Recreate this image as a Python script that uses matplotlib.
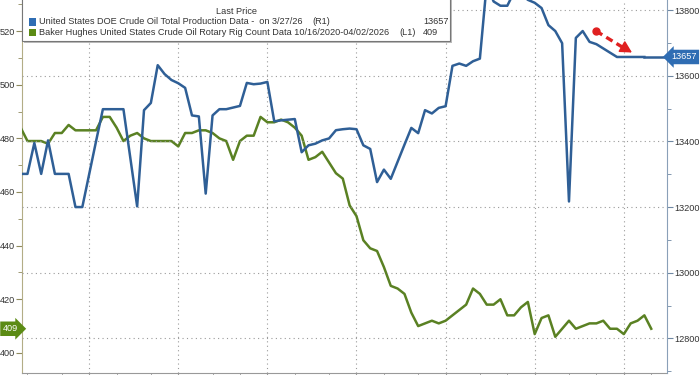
import matplotlib.pyplot as plt
from matplotlib.patches import Rectangle
from matplotlib.lines import Line2D
from matplotlib.ticker import MultipleLocator, FixedLocator
import matplotlib.transforms as mtrans

plt.rcParams['font.family'] = ['Liberation Sans', 'DejaVu Sans']

# weekly Baker Hughes oil rig count (left axis)
rig_count = [484, 479, 479, 479, 478, 482, 482, 485, 483, 483,
             483, 483, 488, 488, 484, 479, 481, 482, 480, 479,
             479, 479, 479, 477, 482, 482, 483, 483, 482, 480,
             479, 472, 479, 481, 481, 488, 486, 486, 487, 486,
             484, 481, 472, 473, 475, 471, 467, 465, 455, 451,
             442, 439, 438, 432, 425, 424, 422, 415, 410, 411,
             412, 411, 412, 414, 416, 418, 424, 422, 418, 418,
             420, 414, 414, 417, 419, 407, 413, 414, 406, 409,
             412, 409, 410, 411, 411, 412, 409, 409, 407, 411,
             412, 414, 409]

# weekly DOE crude oil production, kb/d (right axis)
production = [13301, 13301, 13395, 13301, 13403, 13301, 13301, 13301, 13200, 13200,
              13300, 13400, 13498, 13498, 13498, 13498, 13350, 13202, 13495, 13517,
              13632, 13605, 13587, 13577, 13563, 13479, 13476, 13241, 13479, 13498,
              13498, 13503, 13508, 13578, 13574, 13576, 13581, 13461, 13464, 13466,
              13468, 13367, 13388, 13393, 13403, 13409, 13434, 13437, 13439, 13437,
              13388, 13377, 13276, 13314, 13286, 13338, 13390, 13441, 13425, 13495,
              13485, 13502, 13507, 13630, 13637, 13630, 13644, 13652, 13880, 13826,
              13813, 13813, 13855, 13850, 13831, 13822, 13806, 13754, 13736, 13699,
              13217, 13715, 13736, 13703, 13696, 13683, 13670, 13657, 13657, 13657,
              13657, 13657]

grid_weeks = [10, 23, 36, 49, 62, 75, 88]
month_weeks = [1, 6, 14, 19, 28, 32, 40, 45, 53, 58, 67, 71, 80, 84, 92]

legend_header = "Last Price"
legend_rows = [
    ("United States DOE Crude Oil Total Production Data -  on 3/27/26", "(R1)", "13657"),
    ("Baker Hughes United States Crude Oil Rotary Rig Count Data 10/16/2020-04/02/2026", "(L1)", "409"),
]

blue = "#2f5f96"
green = "#5a8123"
tag_blue = "#2f6db3"
tag_green = "#5b8b14"
txt = "#333333"
red = "#e02020"

W, H = 700, 375


def fx(x):
    return x / W


def fy(y):
    return 1 - y / H


fig = plt.figure(figsize=(7, 3.75), dpi=100)
ax = fig.add_axes([fx(22), 2 / H, (667 - 22) / W, 373 / H])
ax2 = ax.twinx()

xmax = 94.3
ax.set_xlim(0.2, xmax)
ax.set_ylim(392.5, 531.6)
ax2.set_ylim(12694.7, 13830.5)

# lines
ax.plot(range(len(rig_count)), rig_count, color=green, lw=1.8, zorder=3)
ax2.plot(range(len(production)), production, color=blue, lw=1.8, zorder=3)
ax2.plot([len(production) - 1, xmax], [production[-1], production[-1]],
         color=blue, lw=1.8, zorder=3)

# grid (vertical from x, horizontal from right axis)
ax.xaxis.set_major_locator(FixedLocator(grid_weeks))
ax.xaxis.set_minor_locator(FixedLocator(month_weeks))
ax.set_xticklabels([])
ax.grid(axis="x", color="#9a9a9a", linestyle=(0, (1, 3)), lw=0.8)
ax2.yaxis.set_major_locator(MultipleLocator(200))
ax2.yaxis.set_minor_locator(MultipleLocator(100))
ax2.grid(axis="y", color="#9a9a9a", linestyle=(0, (1, 3)), lw=0.8)
ax.yaxis.set_major_locator(MultipleLocator(20))
ax.yaxis.set_minor_locator(MultipleLocator(10))

for a in (ax, ax2):
    a.spines["top"].set_visible(False)
ax.spines["left"].set_color("#b3ad86")
ax.spines["right"].set_visible(False)
ax.spines["bottom"].set_color("#999999")
ax2.spines["left"].set_visible(False)
ax2.spines["bottom"].set_visible(False)
ax2.spines["right"].set_color("#8aa0b8")

ax.tick_params(axis="y", which="major", length=4, width=0.8, color="#8f8a5e",
               labelsize=6.6, labelcolor=txt, pad=1)
ax.tick_params(axis="y", which="minor", length=3, width=0.6, color="#8f8a5e")
ax2.tick_params(axis="y", which="major", length=4, width=0.8, color="#6f88a3",
                labelsize=6.6, labelcolor=txt, pad=1)
ax2.tick_params(axis="y", which="minor", length=3, width=0.6, color="#6f88a3")
ax.tick_params(axis="x", which="both", length=3, color="#999999")

# last value tags
tr2 = mtrans.blended_transform_factory(ax2.transAxes, ax2.transData)
ax2.text(1.006, production[-1], str(production[-1]), transform=tr2, ha="left",
         va="center", color="white", fontsize=6.6, zorder=20, clip_on=False,
         bbox=dict(boxstyle="larrow,pad=0.3", fc=tag_blue, ec="none"))
tr1 = mtrans.blended_transform_factory(ax.transAxes, ax.transData)
ax.text(-0.006, rig_count[-1], str(rig_count[-1]), transform=tr1, ha="right",
        va="center", color="white", fontsize=6.6, zorder=20, clip_on=False,
        bbox=dict(boxstyle="rarrow,pad=0.3", fc=tag_green, ec="none"))

# legend box
fig.add_artist(Rectangle((fx(24), fy(43)), fx(428), 43 / H + 0.01, transform=fig.transFigure,
                         fc="#bbbbbb", ec="none", zorder=9))
fig.add_artist(Rectangle((fx(22), fy(41)), fx(428), 41 / H + 0.01, transform=fig.transFigure,
                         fc="white", ec="#777777", lw=0.8, zorder=10))
fig.text(fx(216), fy(11), legend_header, fontsize=6.6, color=txt, va="center", zorder=11)
for i, (label, side, val) in enumerate(legend_rows):
    yc = 22 + 10.5 * i
    color = tag_blue if i == 0 else tag_green
    fig.add_artist(Rectangle((fx(29), fy(yc + 3.5)), fx(7), 7 / H, transform=fig.transFigure,
                             fc=color, ec="none", zorder=11))
    fig.text(fx(39), fy(yc), label, fontsize=6.6, color=txt, va="center", zorder=11)
    fig.text(fx(312 if i == 0 else 399), fy(yc), side, fontsize=6.6, color=txt,
             va="center", zorder=11)
    fig.text(fx(423), fy(yc), val, fontsize=6.6, color=txt, va="center", zorder=11)

# red dashed arrow: dashed shaft, solid head
fig.add_artist(Line2D([fx(596), fx(623)], [fy(31), fy(47.5)], color=red, lw=2.4,
                      linestyle=(0, (2.2, 1.4)), transform=fig.transFigure, zorder=12))
ax2.annotate("", xy=(fx(632), fy(52.5)), xytext=(fx(621), fy(46)),
             xycoords="figure fraction", textcoords="figure fraction",
             arrowprops=dict(arrowstyle="-|>,head_length=0.7,head_width=0.38",
                             color=red, lw=1.2, shrinkA=0, shrinkB=0), zorder=12)
fig.add_artist(Line2D([fx(596)], [fy(31)], marker="o", ms=5, color=red,
                      transform=fig.transFigure, zorder=12))

fig.savefig("out.png", dpi=100)
